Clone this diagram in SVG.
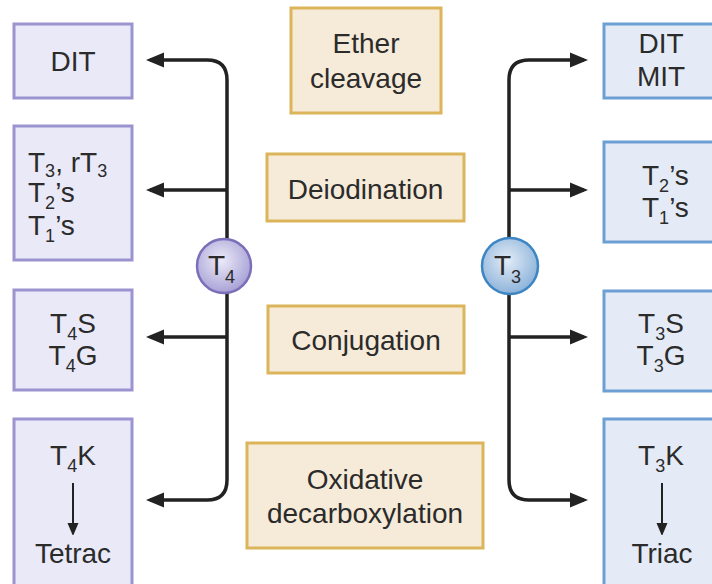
<svg xmlns="http://www.w3.org/2000/svg" width="712" height="584" viewBox="0 0 712 584">
<defs>
<style>
text{font-family:"Liberation Sans",Arial,sans-serif;font-size:28px;fill:#2b2b2b}
.c{text-anchor:middle}
.sub{font-size:18px}
.lb{fill:#e9e9f7;stroke:#9c94d0;stroke-width:3}
.rb{fill:#e5ebf6;stroke:#6c9fd3;stroke-width:3}
.ob{fill:#f6ead8;stroke:#dcb55a;stroke-width:3}
.ln{fill:none;stroke:#222;stroke-width:3.5}
.sa{fill:none;stroke:#222;stroke-width:2}
</style>
<marker id="ah" markerUnits="userSpaceOnUse" markerWidth="18" markerHeight="16" refX="14" refY="8" orient="auto-start-reverse">
<path d="M0,0.5 L18,8 L0,15.5 z" fill="#222"/>
</marker>
<marker id="sah" markerUnits="userSpaceOnUse" markerWidth="12" markerHeight="14" refX="10" refY="6" orient="auto">
<path d="M0,0.5 L13,6 L0,11.5 z" fill="#222"/>
</marker>
<radialGradient id="g4" cx="0.45" cy="0.4" r="0.6">
<stop offset="0" stop-color="#eceaf8"/>
<stop offset="1" stop-color="#a8a2d6"/>
</radialGradient>
<radialGradient id="g3" cx="0.45" cy="0.4" r="0.6">
<stop offset="0" stop-color="#e2ecf7"/>
<stop offset="1" stop-color="#8db3da"/>
</radialGradient>
</defs>
<rect width="712" height="584" fill="#fff"/>

<g id="connectors">
<path class="ln" d="M150,60 H207 Q227,60 227,80 V480 Q227,500 207,500 H150" marker-start="url(#ah)" marker-end="url(#ah)"/>
<path class="ln" d="M227,190 H150" marker-end="url(#ah)"/>
<path class="ln" d="M227,337 H150" marker-end="url(#ah)"/>
<path class="ln" d="M584,60 H529 Q509,60 509,80 V480 Q509,500 529,500 H584" marker-start="url(#ah)" marker-end="url(#ah)"/>
<path class="ln" d="M509,190 H584" marker-end="url(#ah)"/>
<path class="ln" d="M509,337 H584" marker-end="url(#ah)"/>
</g>

<g id="left-dit">
<rect class="lb" x="14" y="24" width="118" height="74"/>
<text class="c" x="73" y="71">DIT</text>
</g>
<g id="left-deiod">
<rect class="lb" x="14" y="126" width="118" height="134"/>
<text x="28" y="172">T<tspan class="sub" dy="5">3</tspan><tspan dy="-5">, rT</tspan><tspan class="sub" dy="5">3</tspan></text>
<text x="28" y="202">T<tspan class="sub" dy="7">2</tspan><tspan dy="-7">’s</tspan></text>
<text x="28" y="235">T<tspan class="sub" dy="7">1</tspan><tspan dy="-7">’s</tspan></text>
</g>
<g id="left-conj">
<rect class="lb" x="14" y="290" width="118" height="100"/>
<text class="c" x="73" y="333">T<tspan class="sub" dy="7">4</tspan><tspan dy="-7">S</tspan></text>
<text class="c" x="73" y="365">T<tspan class="sub" dy="7">4</tspan><tspan dy="-7">G</tspan></text>
</g>
<g id="left-oxid">
<rect class="lb" x="14" y="419" width="118" height="180"/>
<text class="c" x="73" y="465">T<tspan class="sub" dy="7">4</tspan><tspan dy="-7">K</tspan></text>
<path class="sa" d="M73,483 V533" marker-end="url(#sah)"/>
<text class="c" x="73" y="563">Tetrac</text>
</g>

<g id="right-dit">
<rect class="rb" x="604" y="24" width="120" height="74"/>
<text class="c" x="661" y="53">DIT</text>
<text class="c" x="661" y="86">MIT</text>
</g>
<g id="right-deiod">
<rect class="rb" x="604" y="142" width="120" height="100"/>
<text x="642" y="185">T<tspan class="sub" dy="7">2</tspan><tspan dy="-7">’s</tspan></text>
<text x="642" y="217">T<tspan class="sub" dy="7">1</tspan><tspan dy="-7">’s</tspan></text>
</g>
<g id="right-conj">
<rect class="rb" x="604" y="291" width="120" height="100"/>
<text class="c" x="661" y="333">T<tspan class="sub" dy="7">3</tspan><tspan dy="-7">S</tspan></text>
<text class="c" x="661" y="365">T<tspan class="sub" dy="7">3</tspan><tspan dy="-7">G</tspan></text>
</g>
<g id="right-oxid">
<rect class="rb" x="604" y="419" width="120" height="180"/>
<text class="c" x="661" y="465">T<tspan class="sub" dy="7">3</tspan><tspan dy="-7">K</tspan></text>
<path class="sa" d="M662,483 V533" marker-end="url(#sah)"/>
<text class="c" x="662" y="563">Triac</text>
</g>

<g id="ether">
<rect class="ob" x="291" y="8" width="150" height="105"/>
<text class="c" x="366" y="53">Ether</text>
<text class="c" x="366" y="88">cleavage</text>
</g>
<g id="deiodination">
<rect class="ob" x="267" y="154" width="197" height="67"/>
<text class="c" x="365.5" y="199">Deiodination</text>
</g>
<g id="conjugation">
<rect class="ob" x="268" y="306" width="196" height="67"/>
<text class="c" x="366" y="350">Conjugation</text>
</g>
<g id="oxidative">
<rect class="ob" x="247" y="443" width="236" height="105"/>
<text class="c" x="365" y="489">Oxidative</text>
<text class="c" x="365" y="523">decarboxylation</text>
</g>

<g id="t4">
<circle cx="224" cy="266" r="27" fill="url(#g4)" stroke="#7b6fb9" stroke-width="2.5"/>
<text x="208" y="275">T<tspan class="sub" dy="8">4</tspan></text>
</g>
<g id="t3">
<circle cx="510" cy="266" r="28" fill="url(#g3)" stroke="#3d85c3" stroke-width="2.5"/>
<text x="494" y="275">T<tspan class="sub" dy="8">3</tspan></text>
</g>
</svg>
